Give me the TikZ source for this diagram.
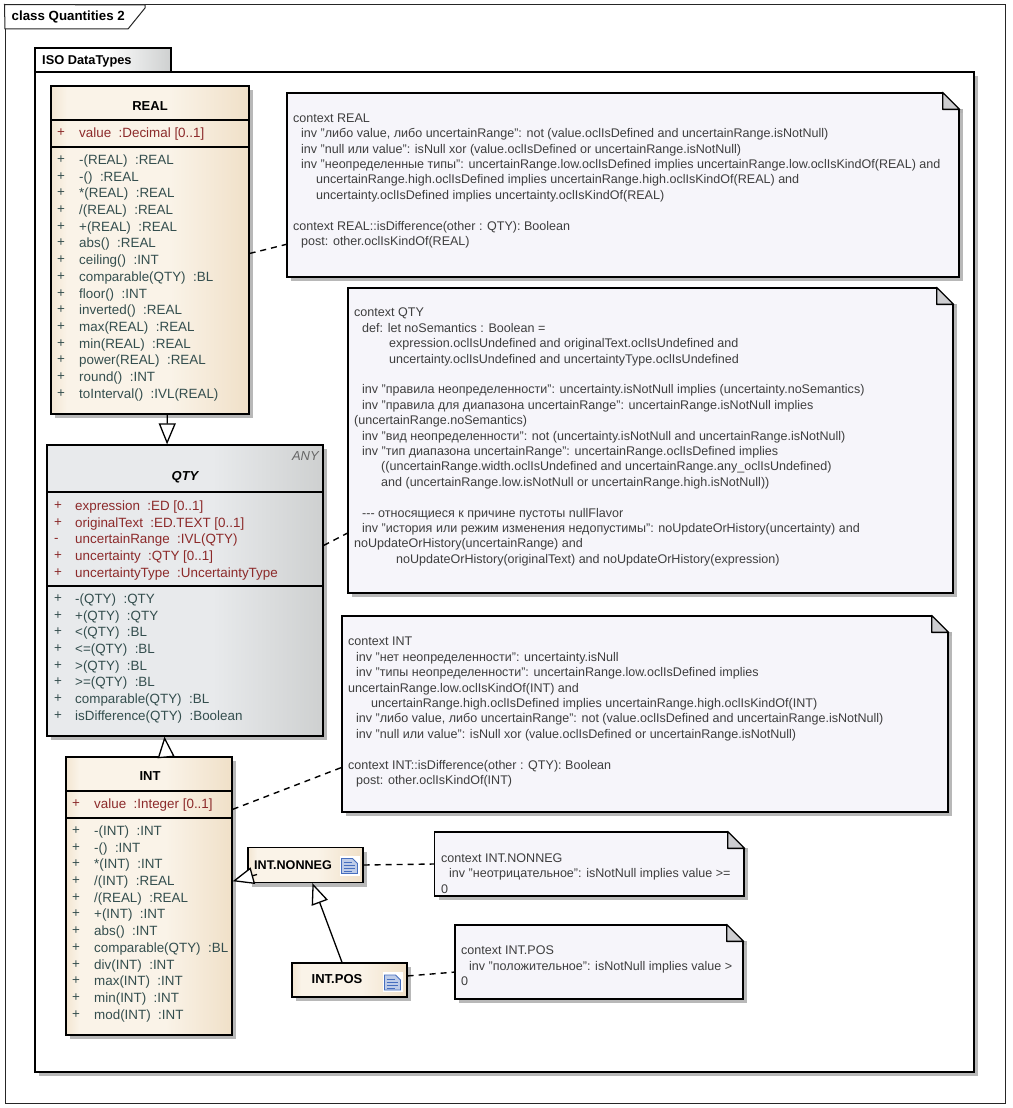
\documentclass[tikz,border=0pt]{standalone}
\usepackage{fontspec}
\setmainfont{Liberation Sans}
\definecolor{attrred}{RGB}{140, 42, 42}
\definecolor{opslate}{RGB}{52, 78, 78}
\definecolor{notegray}{RGB}{62, 62, 62}
\definecolor{notefill}{RGB}{246, 245, 250}
\definecolor{foldgray}{RGB}{205, 205, 208}
\definecolor{creamtan}{RGB}{240, 224, 200}
\definecolor{creamedge}{RGB}{243, 230, 210}
\definecolor{creamlight}{RGB}{250, 243, 232}
\definecolor{qtydark}{RGB}{206, 208, 208}
\definecolor{qtylight}{RGB}{232, 234, 236}
\definecolor{iconblue}{RGB}{70, 110, 190}
\usetikzlibrary{arrows.meta, calc, shadows}
\pgfdeclarehorizontalshading{classfade}{100bp}{color(0bp)=(creamedge); color(25bp)=(creamedge); color(29bp)=(creamlight); color(55bp)=(creamlight); color(75bp)=(creamtan); color(100bp)=(creamtan)}
\pgfdeclarehorizontalshading{qtyfade}{100bp}{color(0bp)=(qtylight); color(25bp)=(qtylight); color(55bp)=(qtylight); color(75bp)=(qtydark); color(100bp)=(qtydark)}
\pgfdeclarehorizontalshading{tabfade}{100bp}{color(0bp)=(white); color(25bp)=(white); color(50bp)=(white); color(75bp)=(qtydark); color(100bp)=(qtydark)}
\newcommand{\notefold}[1]{%
  \fill[white] ($(#1.north east)+(-17,-1)$) rectangle ($(#1.north east)+(5,17)$);
  \fill[black!30] ($(#1.north east)+(0,17)$) rectangle ($(#1.north east)+(3,21)$);
  \draw[thick, line width=1.3pt, fill=foldgray, line join=round] ($(#1.north east)+(-17,0)$) -- ($(#1.north east)+(0,17)$) -- ($(#1.north east)+(-17,17)$) -- cycle;
}
\begin{document}
\begin{tikzpicture}[
        x=1pt, y=-1pt,
        shade1/.style={general shadow={fill=black!28, shadow xshift=4pt, shadow yshift=-4pt}},
        classbox/.style={draw, line width=1.3pt, inner sep=0pt, shade1, shading=classfade},
        qtybox/.style={draw, line width=1.3pt, inner sep=0pt, shade1, shading=qtyfade},
        notebox/.style={draw, line width=1.3pt, inner sep=0pt, fill=notefill, shade1},
        sepline/.style={line width=1.2pt},
        title/.style={font=\fontsize{13}{16}\selectfont\bfseries, inner sep=0pt},
        attr/.style={anchor=north west, inner sep=0pt, align=left, text=attrred,
                     font=\fontsize{13.4}{16.7}\selectfont},
        oper/.style={anchor=north west, inner sep=0pt, align=left, text=opslate,
                     font=\fontsize{13.4}{16.7}\selectfont},
        notetext/.style={anchor=north west, inner sep=0pt, align=left, text=notegray,
                     font=\fontsize{12.54}{15.4}\selectfont},
        gen/.style={-{Triangle[length=21pt, width=17pt, fill=white]}, line width=1.3pt},
        dep/.style={dash pattern=on 6pt off 5pt, line width=1.4pt},
        docicon/.pic={
          \fill[white] (-10,-10) rectangle (10,10);
          \fill[iconblue!35, draw=iconblue, line width=0.8pt] (-8,-7) -- (3,-7) -- (8,-2) -- (8,8) -- (-8,8) -- cycle;
          \draw[iconblue, line width=1pt] (-6,-3) -- (2,-3) (-6,0) -- (5,0) (-6,3) -- (5,3) (-6,6) -- (2,6);
        }
      ]
        \path[use as bounding box, fill=white] (0,0) rectangle (1012,1108);

        % frame and package
        \node[draw=black!85, line width=1pt, minimum width=1000pt, minimum height=1098pt] (frame) at (505,554) {};
        \draw[line width=1pt, draw=black!85, fill=white] (frame.north west) -- (145,5) -- (145,8) -- (128,29) -- (5,29) -- cycle;
        \node[anchor=west, inner sep=0pt, font=\fontsize{13.3}{15}\selectfont\bfseries] (frametitle) at (11.5,17) {class Quantities 2};

        \node[draw, line width=1.3pt, fill=white, inner sep=0pt, shade1, minimum width=939pt, minimum height=1000pt] (pkg) at (504.5,572) {};
        \node[draw, line width=1.3pt, inner sep=0pt, shading=tabfade, minimum width=136pt, minimum height=24pt] (pkgtab) at (103,60) {};
        \node[anchor=west, inner sep=0pt, font=\fontsize{12.8}{15}\selectfont\bfseries] (pkgtitle) at (42,61) {ISO DataTypes};

        % REAL
        \node[classbox, minimum width=198pt, minimum height=328pt] (real) at (150,250) {};
        \node[title] (realname) at (150,106) {REAL};
        \draw[sepline] (real.west |- 0,120) -- (real.east |- 0,120);
        \draw[sepline] (real.west |- 0,147) -- (real.east |- 0,147);
        \node[attr] (realsigna) at (57,128.5) {+};
        \node[attr] (realattr) at (79,127.5) {value~~:Decimal [0..1]};
        \node[oper] (realsigno) at (57,155.5) {+\\+\\+\\+\\+\\+\\+\\+\\+\\+\\+\\+\\+\\+\\+};
        \node[oper] (realops) at (79,154.5) {-(REAL)~~:REAL\\-()~~:REAL\\{*}(REAL)~~:REAL\\/(REAL)~~:REAL\\+(REAL)~~:REAL\\abs()~~:REAL\\ceiling()~~:INT\\comparable(QTY)~~:BL\\floor()~~:INT\\inverted()~~:REAL\\max(REAL)~~:REAL\\min(REAL)~~:REAL\\power(REAL)~~:REAL\\round()~~:INT\\toInterval()~~:IVL(REAL)};

        % QTY
        \node[qtybox, minimum width=276pt, minimum height=291pt] (qty) at (185,590.5) {};
        \node[anchor=east, inner sep=0pt, text=black!60, font=\fontsize{13}{16}\selectfont\itshape] (qtyany) at (319,456) {ANY};
        \node[title, font=\fontsize{13}{16}\selectfont\bfseries\itshape] (qtyname) at (185,477) {QTY};
        \draw[sepline] (qty.west |- 0,492) -- (qty.east |- 0,492);
        \draw[sepline] (qty.west |- 0,586) -- (qty.east |- 0,586);
        \node[attr] (qtysigna) at (54,501.5) {+\\+\\-\\+\\+};
        \node[attr] (qtyattr) at (75,500.5) {expression~~:ED [0..1]\\originalText~~:ED.TEXT [0..1]\\uncertainRange~~:IVL(QTY)\\uncertainty~~:QTY [0..1]\\uncertaintyType~~:UncertaintyType};
        \node[oper] (qtysigno) at (54,594.5) {+\\+\\+\\+\\+\\+\\+\\+};
        \node[oper] (qtyops) at (75,593.5) {-(QTY)~~:QTY\\+(QTY)~~:QTY\\<(QTY)~~:BL\\<=(QTY)~~:BL\\>(QTY)~~:BL\\>=(QTY)~~:BL\\comparable(QTY)~~:BL\\isDifference(QTY)~~:Boolean};

        % INT
        \node[classbox, minimum width=166pt, minimum height=278pt] (intt) at (149,896) {};
        \node[title] (intname) at (150,776) {INT};
        \draw[sepline] (intt.west |- 0,791) -- (intt.east |- 0,791);
        \draw[sepline] (intt.west |- 0,818) -- (intt.east |- 0,818);
        \node[attr] (intsigna) at (72,799.5) {+};
        \node[attr] (intattr) at (94,798.5) {value~~:Integer [0..1]};
        \node[oper] (intsigno) at (72,826.5) {+\\+\\+\\+\\+\\+\\+\\+\\+\\+\\+\\+};
        \node[oper] (intops) at (94,825.5) {-(INT)~~:INT\\-()~~:INT\\{*}(INT)~~:INT\\/(INT)~~:REAL\\/(REAL)~~:REAL\\+(INT)~~:INT\\abs()~~:INT\\comparable(QTY)~~:BL\\div(INT)~~:INT\\max(INT)~~:INT\\min(INT)~~:INT\\mod(INT)~~:INT};

        % INT.NONNEG and INT.POS
        \node[classbox, minimum width=115pt, minimum height=35pt] (nonneg) at (305.5,865) {};
        \node[title, anchor=west, font=\fontsize{12.6}{16}\selectfont\bfseries] (nonnegname) at (254,865) {INT.NONNEG};
        \pic (nonnegicon) at (349.5,865.5) {docicon};
        \node[classbox, minimum width=115pt, minimum height=34pt] (intpos) at (349.5,980) {};
        \node[title] (intposname) at (337,979) {INT.POS};
        \pic (intposicon) at (392.5,982) {docicon};

        % notes
        \node[notebox, minimum width=672pt, minimum height=184pt] (realnote) at (623,185) {};
        \notefold{realnote}
        \node[notetext] (realtext) at (293,113.5) {context REAL\\
          \hspace*{8pt}inv "либо value, либо uncertainRange": not (value.oclIsDefined and uncertainRange.isNotNull)\\
          \hspace*{8pt}inv "null или value": isNull xor (value.oclIsDefined or uncertainRange.isNotNull)\\
          \hspace*{8pt}inv "неопределенные типы": uncertainRange.low.oclIsDefined implies uncertainRange.low.oclIsKindOf(REAL) and\\
          \hspace*{23pt}uncertainRange.high.oclIsDefined implies uncertainRange.high.oclIsKindOf(REAL) and\\
          \hspace*{23pt}uncertainty.oclIsDefined implies uncertainty.oclIsKindOf(REAL)\\
          ~\\
          context REAL::isDifference(other : QTY): Boolean\\
          \hspace*{8pt}post: other.oclIsKindOf(REAL)};

        \node[notebox, minimum width=605pt, minimum height=305pt] (qtynote) at (650.5,440.5) {};
        \notefold{qtynote}
        \node[notetext] (qtytext) at (354,308) {context QTY\\
          \hspace*{8pt}def: let noSemantics : Boolean =\\
          \hspace*{35pt}expression.oclIsUndefined and originalText.oclIsUndefined and\\
          \hspace*{35pt}uncertainty.oclIsUndefined and uncertaintyType.oclIsUndefined\\
          ~\\
          \hspace*{8pt}inv "правила неопределенности": uncertainty.isNotNull implies (uncertainty.noSemantics)\\
          \hspace*{8pt}inv "правила для диапазона uncertainRange": uncertainRange.isNotNull implies\\
          (uncertainRange.noSemantics)\\
          \hspace*{8pt}inv "вид неопределенности": not (uncertainty.isNotNull and uncertainRange.isNotNull)\\
          \hspace*{8pt}inv "тип диапазона uncertainRange": uncertainRange.oclIsDefined implies\\
          \hspace*{27pt}((uncertainRange.width.oclIsUndefined and uncertainRange.any\_oclIsUndefined)\\
          \hspace*{27pt}and (uncertainRange.low.isNotNull or uncertainRange.high.isNotNull))\\
          ~\\
          \hspace*{8pt}{-}{-}{-} относящиеся к причине пустоты nullFlavor\\
          \hspace*{8pt}inv "история или режим изменения недопустимы": noUpdateOrHistory(uncertainty) and\\
          noUpdateOrHistory(uncertainRange) and\\
          \hspace*{42pt}noUpdateOrHistory(originalText) and noUpdateOrHistory(expression)};

        \node[notebox, minimum width=606pt, minimum height=196pt] (intnote) at (645,714) {};
        \notefold{intnote}
        \node[notetext] (inttext) at (348,637) {context INT\\
          \hspace*{8pt}inv "нет неопределенности": uncertainty.isNull\\
          \hspace*{8pt}inv "типы неопределенности": uncertainRange.low.oclIsDefined implies\\
          uncertainRange.low.oclIsKindOf(INT) and\\
          \hspace*{23pt}uncertainRange.high.oclIsDefined implies uncertainRange.high.oclIsKindOf(INT)\\
          \hspace*{8pt}inv "либо value, либо uncertainRange": not (value.oclIsDefined and uncertainRange.isNotNull)\\
          \hspace*{8pt}inv "null или value": isNull xor (value.oclIsDefined or uncertainRange.isNotNull)\\
          ~\\
          context INT::isDifference(other : QTY): Boolean\\
          \hspace*{8pt}post: other.oclIsKindOf(INT)};

        \node[notebox, minimum width=309.5pt, minimum height=64pt] (nonnegnote) at (589.25,864) {};
        \notefold{nonnegnote}
        \node[notetext] (nonnegtext) at (441,853.5) {context INT.NONNEG\\
          \hspace*{8pt}inv "неотрицательное": isNotNull implies value >=\\
          0};

        \node[notebox, minimum width=288pt, minimum height=74pt] (posnote) at (599,962) {};
        \notefold{posnote}
        \node[notetext] (postext) at (461,946) {context INT.POS\\
          \hspace*{8pt}inv "положительное": isNotNull implies value >\\
          0};

        % generalizations
        \coordinate (nonnegin) at (257,874.5);
        \draw[gen] (real.-84.8) -- (qty.97.05);
        \draw[gen] (intt.83.4) -- (qty.262.2);
        \draw[gen] (nonnegin) -- (intt.10.9);
        \draw[gen] (intpos.113.8) -- (nonneg.-69.1);

        % note links
        \draw[dep] (real.-2.9) -- (realnote.190.95);
        \draw[dep] (qty.18.6) -- (qtynote.197.9);
        \draw[dep] (intt.46.7) -- (intnote.190.47);
        \draw[dep] (nonneg.east) -- (nonnegnote.west);
        \draw[dep] (intpos.4) -- (posnote.184.4);
      \end{tikzpicture}
\end{document}
